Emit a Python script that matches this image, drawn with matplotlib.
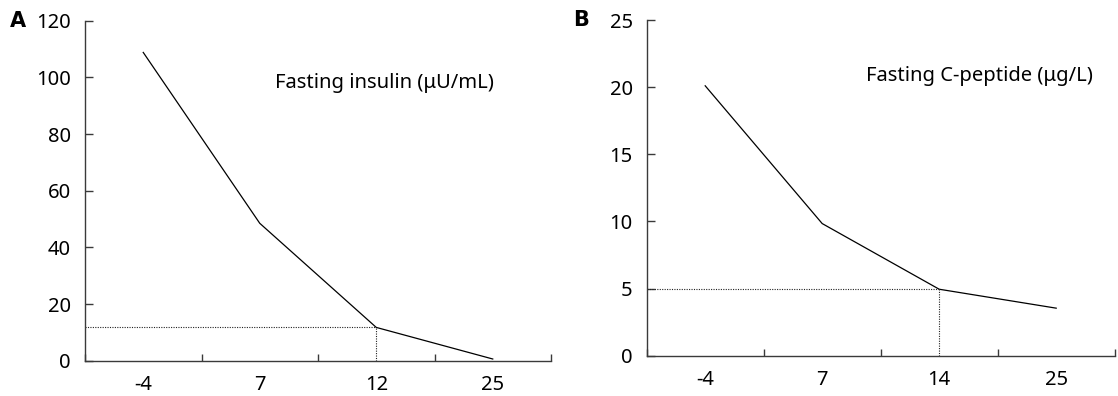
import matplotlib
matplotlib.use("Agg")
import matplotlib.pyplot as plt
import numpy as np

plt.rcParams['font.family'] = ['Noto Sans', 'DejaVu Sans']

# ---- data ----
cats_a = ["-4", "7", "12", "25"]
insulin = [108.8, 48.5, 11.75, 0.6]
cut_a = 2  # index of the cut-off point (dotted guide)
yticks_a = [0, 20, 40, 60, 80, 100, 120]
label_a = "Fasting insulin (μU/mL)"

cats_b = ["-4", "7", "14", "25"]
cpeptide = [20.1, 9.84, 4.95, 3.54]
cut_b = 2
yticks_b = [0, 5, 10, 15, 20, 25]
label_b = "Fasting C-peptide (μg/L)"

W, H = 1118, 396
fig = plt.figure(figsize=(W / 100, H / 100), dpi=100)

axA = fig.add_axes([85 / W, (H - 360.7) / H, 466 / W, 340 / H])
axB = fig.add_axes([646.7 / W, (H - 355.7) / H, 468 / W, 335.7 / H])

FS = 14.5
axis_color = "#3a3a3a"


def draw(ax, cats, vals, cut, yticks, label, txy):
    x = np.arange(len(cats))
    ax.plot(x, vals, color="black", lw=0.9, solid_joinstyle="miter")
    # dotted guides
    ax.plot([-0.5, x[cut]], [vals[cut], vals[cut]], color="#222222",
            lw=0.8, linestyle=(0, (1, 1.2)))
    ax.plot([x[cut], x[cut]], [0, vals[cut]], color="#222222",
            lw=0.8, linestyle=(0, (1, 1.2)))
    ax.set_xlim(-0.5, len(cats) - 0.5)
    ax.set_ylim(yticks[0], yticks[-1])
    ax.set_yticks(yticks)
    ax.set_xticks(x)
    ax.set_xticklabels(cats)
    ax.set_xticks(np.arange(len(cats) + 1) - 0.5, minor=True)
    for s in ("top", "right"):
        ax.spines[s].set_visible(False)
    for s in ("left", "bottom"):
        ax.spines[s].set_color(axis_color)
        ax.spines[s].set_linewidth(1.0)
    ax.tick_params(axis="x", which="major", length=0, pad=10.5, labelsize=FS)
    ax.tick_params(axis="x", which="minor", direction="in", length=5.2,
                   width=1.0, color=axis_color)
    ax.tick_params(axis="y", direction="in", length=5.5, width=1.0,
                   color=axis_color, pad=10, labelsize=FS)
    ax.text(txy[0], txy[1], label, transform=ax.transAxes, ha="left",
            va="center", fontsize=FS)


draw(axA, cats_a, insulin, cut_a, yticks_a, label_a, (0.408, 0.8176))
draw(axB, cats_b, cpeptide, cut_b, yticks_b, label_b, (0.4686, 0.8332))

fig.text(10 / W, (H - 20.7) / H, "A", fontsize=15, fontweight="bold",
         family=["DejaVu Sans"], ha="left", va="center")
fig.text(573 / W, (H - 20) / H, "B", fontsize=15, fontweight="bold",
         family=["DejaVu Sans"], ha="left", va="center")

fig.savefig("out.png", dpi=100)
